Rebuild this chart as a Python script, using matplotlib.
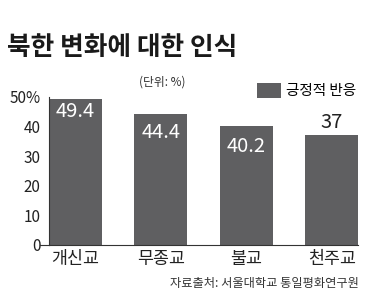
import matplotlib.pyplot as plt

plt.rcParams['font.family'] = ['Noto Sans CJK KR', 'DejaVu Sans']

# data
religions = ["개신교", "무종교", "불교", "천주교"]
positive = [49.4, 44.4, 40.2, 37]
value_text = ["49.4", "44.4", "40.2", "37"]
yticks = [0, 10, 20, 30, 40, 50]
ytick_labels = ["0", "10", "20", "30", "40", "50%"]

bar_color = "#5f5f61"

fig = plt.figure(figsize=(3.77, 3.02), dpi=100)
ax = fig.add_axes([0.130, 0.189, 0.820, 0.490])

x = range(len(religions))
ax.bar(x, positive, width=0.62, color=bar_color, label="긍정적 반응")

# value labels: inside bars (white) except the last one, drawn above
offsets = [-13, -19, -21, 13]
for i, (v, t) in enumerate(zip(positive, value_text)):
    col = "white" if i < 3 else "#222222"
    ax.annotate(t, (i, v), xytext=(0, offsets[i]), textcoords="offset pixels",
                ha="center", va="center", fontsize=14.5, color=col)

ax.set_xlim(-0.31, 3.31)
ax.set_ylim(0, 50)
ax.set_yticks(yticks)
ax.set_yticklabels(ytick_labels, fontsize=11, color="#222222")
ax.set_xticks(list(x))
ax.set_xticklabels(religions, fontsize=12.5, color="#222222")
ax.tick_params(axis="y", length=0, pad=6)
ax.tick_params(axis="x", length=0, pad=4)
for s in ["top", "right"]:
    ax.spines[s].set_visible(False)
ax.spines["left"].set_color("#333333")
ax.spines["bottom"].set_color("#333333")
# short stub left of the zero line
ax.plot([-0.42, -0.31], [0, 0], color="#333333", lw=0.8, clip_on=False)

fig.text(0.018, 0.843, "북한 변화에 대한 인식", fontsize=18.5, fontweight="bold",
         color="#1a1a1a", va="center")
fig.text(0.43, 0.73, "(단위: %)", fontsize=8.5, color="#333333", ha="center", va="center")
leg = fig.legend(loc="center left", bbox_to_anchor=(0.665, 0.70), frameon=False,
                 fontsize=10.5, handlelength=1.7, handleheight=1.2, handletextpad=0.35,
                 borderaxespad=0)
fig.text(0.952, 0.062, "자료출처: 서울대학교 통일평화연구원", fontsize=8.8,
         color="#333333", ha="right", va="center")

fig.savefig("out.png", dpi=100)
